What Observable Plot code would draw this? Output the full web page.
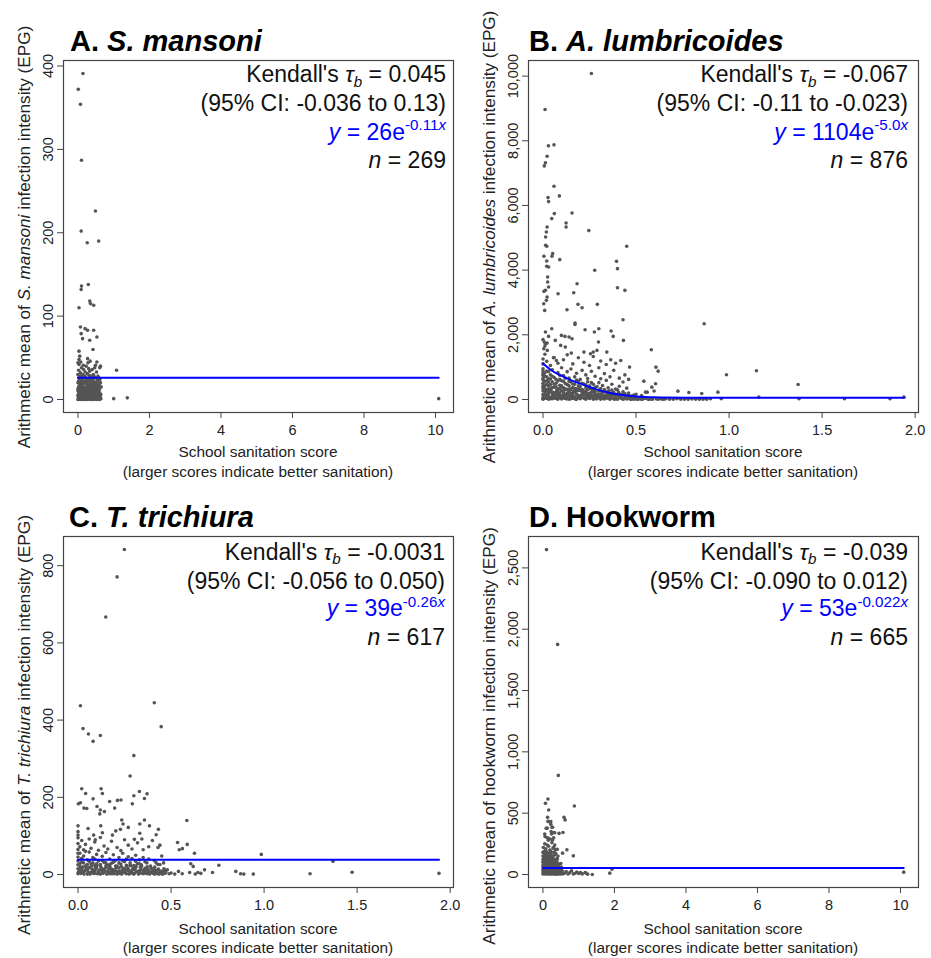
<!DOCTYPE html>
<html>
<head>
<meta charset="utf-8">
<script src="https://cdn.jsdelivr.net/npm/d3@7"></script>
<script src="https://cdn.jsdelivr.net/npm/@observablehq/plot@0.6"></script>
<style>
  body { margin: 0; background: white; }
  #root { position: relative; width: 931px; height: 958px; background: white; overflow: hidden;
          font-family: "Liberation Sans", Arial, Helvetica, sans-serif; color: #111; }
  #root svg { position: absolute; }
  #root svg text { font-size: 14.5px !important; font-family: "Liberation Sans", Arial, sans-serif !important; }
  .t { position: absolute; white-space: nowrap; line-height: 1; }
  .t sub, .t sup { font-size: 0.66em; vertical-align: baseline; position: relative; line-height: 0; }
  .t sub { top: 0.32em; }
  .t sup { top: -0.62em; }
  .ylab { position: absolute; white-space: nowrap; line-height: 1; font-size: 17px;
          transform: translate(-50%, -50%) rotate(-90deg); color: #222; }
</style>
</head>
<body>
<div id="root"></div>
<script>
// ---------------- DATA ----------------
// Panel A: S. mansoni  [sanitation score, EPG]
const pointsA = [
  [0.14,391],[0.01,372],[0.07,354],[0.10,287],[0.49,226],[0.09,202],[0.26,188],[0.58,190],
  [0.10,136],[0.09,132],[0.29,138],[0.03,110],[0.33,118],[0.35,115],[0.44,113],[0.07,87],
  [0.20,85],[0.27,83],[0.44,83],[0.09,79],[0.13,73],[0.53,75],[0.33,71],[0.42,60],[0.03,58],
  [0.05,52],[0.27,49],[0.03,48],[0.53,45],[0.49,41],[0.63,40],[1.08,35],[1.00,1],[1.38,2],[10.09,1],
  [0.02,2],[0.05,5],[0.08,1],[0.1,8],[0.12,3],[0.15,12],[0.18,6],[0.2,2],[0.22,15],[0.25,4],[0.28,9],
  [0.3,1],[0.32,18],[0.35,7],[0.38,3],[0.4,11],[0.42,5],[0.45,2],[0.48,14],[0.5,6],[0.52,1],[0.55,9],
  [0.58,3],[0.6,12],[0.62,4],[0.64,1],[0.01,10],[0.03,16],[0.06,20],[0.09,13],[0.11,24],[0.14,18],
  [0.17,22],[0.19,10],[0.21,27],[0.24,19],[0.27,13],[0.29,23],[0.31,29],[0.34,16],[0.37,21],[0.39,8],
  [0.41,19],[0.44,25],[0.46,10],[0.49,20],[0.51,16],[0.54,22],[0.57,18],[0.59,7],[0.63,20],[0.65,15],
  [0.0,30],[0.02,35],[0.04,25],[0.07,32],[0.1,38],[0.13,30],[0.16,36],[0.18,28],[0.2,33],[0.23,40],
  [0.26,31],[0.3,37],[0.33,34],[0.36,27],[0.4,36],[0.43,30],[0.47,38],[0.52,33],[0.56,28],[0.61,38],
  [0.0,0],[0.03,1],[0.06,0],[0.09,3],[0.13,0],[0.16,2],[0.19,0],[0.23,1],[0.26,0],[0.3,3],[0.33,0],
  [0.36,1],[0.39,0],[0.43,2],[0.46,0],[0.5,1],[0.53,0],[0.57,2],[0.6,0],[0.63,1],[0.0,5],[0.01,14],
  [0.02,22],[0.04,8],[0.05,28],[0.07,11],[0.08,17],[0.11,6],[0.12,29],[0.14,4],[0.17,9],[0.21,7],
  [0.24,11],[0.27,5],[0.32,10],[0.35,14],[0.38,24],[0.41,2],[0.44,8],[0.47,5],[0.5,26],[0.53,11],
  [0.56,4],[0.59,16],[0.62,25],[0.0,44],[0.03,42],[0.15,41],[0.28,44],[0.34,46],[0.08,45],
  [0.0,12],[0.0,20],[0.01,3],[0.02,8],[0.03,26],[0.04,14],[0.05,19],[0.06,6],[0.07,24],[0.08,10],
  [0.09,21],[0.1,16],[0.11,1],[0.12,19],[0.13,9],[0.14,26],[0.15,3],[0.16,15],[0.17,28],[0.18,12],
  [0.19,4],[0.2,20],[0.21,13],[0.22,6],[0.23,24],[0.24,2],[0.25,15],[0.26,22],[0.27,9],[0.28,17],
  [0.29,3],[0.3,25],[0.31,12],[0.32,4],[0.33,21],[0.34,8],[0.35,28],[0.36,11],[0.37,5],[0.38,17],
  [0.39,26],[0.4,4],[0.41,13],[0.42,22],[0.43,9],[0.44,16],[0.45,28],[0.46,4],[0.47,19],[0.48,7],
  [0.49,11],[0.5,21],[0.51,3],[0.52,17],[0.53,6],[0.54,14],[0.55,25],[0.56,10],[0.57,2],[0.58,13],
  [0.6,22],[0.61,8],[0.62,16],[0.64,6]
];
const fitA = [[0,26],[10.09,26]];

// Panel B: A. lumbricoides
const pointsB = [
  [0.26,10083],[0.011,8968],[0.029,7843],[0.059,7874],[0.022,7523],[0.013,7317],[0.007,7224],
  [0.059,6594],[0.088,6295],[0.027,6243],[0.03,6120],[0.061,5748],[0.156,5769],[0.047,5593],
  [0.124,5459],[0.124,5335],[0.246,5222],[0.022,5335],[0.018,5181],[0.014,5026],[0.014,4768],
  [0.02,4737],[0.052,4510],[0.048,4427],[0.005,4427],[0.02,4283],[0.02,4118],[0.03,4097],[0.09,4324],
  [0.45,4737],[0.395,4272],[0.40,4046],[0.278,3994],[0.025,3787],[0.025,3633],[0.03,3478],[0.013,3375],
  [0.005,3344],[0.40,3457],[0.44,3375],[0.081,3271],[0.183,3581],[0.165,3302],[0.022,3168],[0.018,3065],
  [0.004,2962],[0.292,2941],[0.188,2941],[0.21,2838],[0.129,2776],[0.009,2755],[0.172,2363],[0.172,2322],
  [0.43,2466],[0.866,2343],[0.047,2188],[0.013,2085],[0.226,2157],[0.30,2188],[0.276,2085],[0.366,2116],
  [0.377,1950],[0.099,1981],[0.118,1950],[0.14,1930],[0.066,1827],[0.156,1878],[0.432,1827],[0.007,1775],
  [0.013,1723],[0.022,1744],[0.298,1775],[0.095,1672],[0.12,1620],[0.004,1569],[0.582,1538],[0.023,1517],
  [0.22,1465],[0.255,1414],[0.27,1465],[0.29,1517],[0.343,1465],[0.152,1434],[0.056,1290],[0.072,1207],
  [0.364,1228],[0.418,1207],[0.607,1000],[0.619,876],[0.465,1001],[0.986,765],[1.147,888],[1.371,464],
  [0.542,567],[0.605,486],[0.585,381],[0.597,260],[0.551,226],[0.56,226],[0.725,257],[0.784,217],
  [0.853,186],[0.94,226],[1.16,72],[1.376,20],[1.62,20],[1.865,20],[1.94,72],[0.958,20],
  [0.00,10],[0.01,40],[0.02,80],[0.03,5],[0.04,60],[0.05,20],[0.06,90],[0.07,30],[0.08,5],[0.09,70],
  [0.10,15],[0.11,50],[0.12,95],[0.13,25],[0.14,5],[0.15,65],[0.16,35],[0.17,85],[0.18,10],[0.19,55],
  [0.20,20],[0.21,75],[0.22,40],[0.23,5],[0.24,60],[0.25,30],[0.26,90],[0.27,10],[0.28,50],[0.29,25],
  [0.30,70],[0.31,5],[0.32,45],[0.33,15],[0.34,80],[0.35,30],[0.36,5],[0.37,60],[0.38,20],[0.39,40],
  [0.40,10],[0.41,75],[0.42,30],[0.43,5],[0.44,55],[0.45,15],[0.46,35],[0.47,5],[0.48,25],[0.49,10],
  [0.50,45],[0.51,5],[0.52,20],[0.53,10],[0.55,30],[0.57,5],[0.59,15],[0.62,5],[0.64,10],[0.66,20],
  [0.7,5],[0.74,10],[0.76,5],[0.8,15],[0.82,5],[0.86,10],[0.88,5],[0.9,20],
  [0.00,150],[0.01,250],[0.02,120],[0.03,200],[0.04,290],[0.05,170],[0.06,110],[0.07,240],[0.08,180],
  [0.09,130],[0.10,270],[0.11,210],[0.12,150],[0.13,110],[0.14,260],[0.15,190],[0.16,130],[0.17,230],
  [0.18,170],[0.19,280],[0.20,120],[0.21,210],[0.22,160],[0.23,250],[0.24,110],[0.25,190],[0.26,140],
  [0.27,230],[0.28,170],[0.29,120],[0.30,260],[0.31,150],[0.32,200],[0.33,110],[0.34,240],[0.35,140],
  [0.36,180],[0.37,120],[0.38,220],[0.40,150],[0.42,110],[0.44,180],[0.46,130],[0.48,110],[0.50,160],
  [0.53,120],[0.02,170],[0.05,230],[0.09,200],[0.15,110],
  [0.00,350],[0.00,500],[0.01,420],[0.02,580],[0.03,330],[0.04,460],[0.05,550],[0.06,380],[0.07,500],
  [0.08,320],[0.09,440],[0.10,580],[0.11,360],[0.12,490],[0.13,310],[0.14,420],[0.15,540],[0.16,370],
  [0.17,470],[0.18,330],[0.19,560],[0.20,400],[0.21,310],[0.22,480],[0.23,360],[0.24,550],[0.25,420],
  [0.26,320],[0.27,470],[0.28,380],[0.30,520],[0.31,340],[0.32,430],[0.34,590],[0.35,360],[0.37,470],
  [0.39,320],[0.41,410],[0.43,540],[0.45,350],
  [0.00,650],[0.00,800],[0.00,950],[0.01,720],[0.02,880],[0.03,640],[0.04,760],[0.05,920],[0.06,680],
  [0.08,830],[0.09,620],[0.10,980],[0.11,740],[0.13,860],[0.14,660],[0.15,940],[0.17,700],[0.18,810],
  [0.20,620],[0.21,900],[0.23,760],[0.24,650],[0.26,870],[0.28,720],[0.30,980],[0.31,640],[0.33,800],
  [0.36,700],[0.38,900],[0.41,660],[0.44,760],[0.46,620],
  [0.00,1100],[0.00,1250],[0.01,1400],[0.02,1180],[0.04,1050],[0.06,1300],[0.08,1120],[0.11,1230],
  [0.13,1380],[0.16,1100],[0.19,1290],[0.22,1150],[0.25,1050],[0.27,1330],[0.31,1190],[0.34,1080],
  [0.39,1120],[0.00,1850],[0.01,1650],[0.03,1950],
  [0.005,30],[0.015,120],[0.025,260],[0.035,60],[0.045,340],[0.055,150],[0.065,40],[0.075,300],
  [0.085,90],[0.095,380],[0.105,60],[0.115,290],[0.125,20],[0.135,190],[0.145,330],[0.155,80],
  [0.165,260],[0.175,10],[0.185,140],[0.195,350],[0.205,70],[0.215,280],[0.225,30],[0.235,180],
  [0.245,330],[0.255,60],[0.265,240],[0.275,110],[0.285,20],[0.295,170],[0.305,310],[0.315,90],
  [0.325,230],[0.335,40],[0.345,160],[0.355,270],[0.365,70],[0.375,190],[0.385,10],[0.395,120],
  [0.405,230],[0.415,60],[0.425,150],[0.435,20],[0.445,100],[0.455,40],[0.465,80],[0.475,10],
  [0.485,60],[0.495,30],[0.505,10],[0.515,50],[0.525,20],[0.535,5],[0.545,40],[0.565,10],[0.575,25],
  [0.585,5],[0.61,15],[0.63,30],[0.65,5],[0.68,10],[0.72,20],[0.78,5],[0.84,10],
  [0.0,60],[0.0,260],[0.0,420],[0.0,600],[0.0,740],[0.0,880],[0.01,160],[0.01,330],[0.01,560],
  [0.01,820],[0.02,40],[0.02,300],[0.02,470],[0.02,700],[0.03,110],[0.03,420],[0.03,540],[0.03,860],
  [0.04,20],[0.04,240],[0.04,630],[0.05,90],[0.05,370],[0.05,720],[0.06,200],[0.06,470],[0.07,130],
  [0.07,390],[0.07,620],[0.08,50],[0.08,260],[0.08,570],[0.09,330],[0.09,750],[0.10,110],[0.10,420],
  [0.11,140],[0.11,560],[0.12,30],[0.12,330],[0.12,660],[0.13,200],[0.13,460],[0.14,110],[0.14,560],
  [0.15,20],[0.15,300],[0.16,200],[0.16,480],[0.17,60],[0.17,340],[0.18,260],[0.18,600],[0.19,100],
  [0.19,420],[0.20,280],[0.21,130],[0.21,500],[0.22,230],[0.23,90],[0.23,450],[0.24,300],[0.25,140],
  [0.26,220],[0.26,520],[0.27,60],[0.27,320],[0.28,250],[0.29,60],[0.29,400],[0.30,140],[0.31,260],
  [0.32,100],[0.33,310],[0.34,140],[0.35,230],[0.36,80],[0.37,290],[0.38,140],[0.39,60],[0.40,300],
  [0.41,180],[0.42,50],[0.43,240],[0.44,120],[0.46,200],[0.47,100],[0.49,140]
];
const fitB = [[0,1110],[0.05,880],[0.1,730],[0.15,600],[0.2,490],[0.25,385],[0.3,290],[0.35,215],
  [0.4,160],[0.45,120],[0.5,95],[0.6,70],[0.8,55],[1.0,50],[1.5,50],[1.94,50]];

// Panel C: T. trichiura
const pointsC = [
  [0.249,842],[0.21,771],[0.149,667],[0.013,437],[0.41,445],[0.447,383],[0.027,378],[0.056,364],
  [0.081,345],[0.12,360],[0.30,308],[0.28,255],[0.02,222],[0.124,222],[0.131,210],[0.041,210],[0.33,215],
  [0.30,204],[0.371,209],[0.357,197],[0.081,196],[0.002,183],[0.013,186],[0.032,172],[0.047,171],
  [0.102,176],[0.12,167],[0.17,189],[0.212,192],[0.231,193],[0.197,172],[0.292,183],[0.142,163],
  [0.117,157],[0.0,126],[0.054,119],[0.084,102],[0.122,126],[0.235,141],[0.242,131],[0.228,117],
  [0.27,122],[0.357,141],[0.384,126],[0.332,131],[0.432,117],[0.585,140],[0.42,103],[0.332,107],
  [0.203,113],[0.185,102],[0.131,108],[0.093,90],[0.303,91],[0.343,92],[0.0,102],[0.0,111],[0.535,83],
  [0.587,78],[0.544,64],[0.561,67],[0.626,55],[0.985,52],[1.37,34],[0.757,24],[0.606,28],[0.619,21],
  [0.68,12],[0.723,5],[0.644,5],[0.848,8],[0.874,2],[0.891,1],[0.942,1],[1.247,2],[1.473,6],[1.94,3],
  [0.00,2],[0.01,8],[0.02,15],[0.03,4],[0.04,11],[0.05,1],[0.06,18],[0.07,6],[0.08,12],[0.09,3],
  [0.10,16],[0.11,7],[0.12,1],[0.13,13],[0.14,5],[0.15,19],[0.16,9],[0.17,2],[0.18,14],[0.19,6],
  [0.20,10],[0.21,1],[0.22,17],[0.23,4],[0.24,12],[0.25,8],[0.26,2],[0.27,15],[0.28,5],[0.29,11],
  [0.30,1],[0.31,18],[0.32,7],[0.33,3],[0.34,13],[0.35,6],[0.36,16],[0.37,2],[0.38,9],[0.39,4],
  [0.40,14],[0.41,1],[0.42,8],[0.43,12],[0.44,3],[0.45,6],[0.46,2],[0.47,10],
  [0.005,12],[0.015,3],[0.025,19],[0.035,9],[0.045,16],[0.055,6],[0.065,1],[0.075,14],[0.085,8],
  [0.095,19],[0.105,2],[0.115,11],[0.125,17],[0.135,3],[0.145,9],[0.155,1],[0.165,15],[0.175,7],
  [0.185,11],[0.195,2],[0.205,18],[0.215,5],[0.225,9],[0.235,1],[0.245,16],[0.255,4],[0.265,11],
  [0.275,1],[0.285,8],[0.295,17],[0.305,4],[0.315,9],[0.325,1],[0.335,19],[0.345,3],[0.355,10],
  [0.365,6],[0.375,13],[0.385,1],[0.395,7],[0.405,3],[0.415,11],[0.425,5],[0.435,1],[0.455,9],
  [0.5,4],[0.52,1],[0.54,8],[0.56,2],[0.6,5],[0.63,1],[0.66,3],
  [0.00,25],[0.00,45],[0.01,55],[0.02,32],[0.03,48],[0.04,22],[0.05,38],[0.06,58],[0.07,28],[0.08,44],
  [0.09,23],[0.10,52],[0.11,35],[0.12,26],[0.13,47],[0.14,31],[0.15,57],[0.16,24],[0.17,40],[0.18,29],
  [0.19,51],[0.20,36],[0.21,22],[0.22,44],[0.23,27],[0.24,55],[0.25,33],[0.26,24],[0.27,46],[0.28,30],
  [0.29,41],[0.30,23],[0.31,50],[0.32,28],[0.33,38],[0.34,25],[0.35,44],[0.37,30],[0.39,22],[0.41,36],
  [0.43,26],[0.45,48],[0.46,30],
  [0.00,65],[0.00,80],[0.00,95],[0.01,72],[0.02,88],[0.03,64],[0.04,78],[0.06,92],[0.07,68],[0.09,84],
  [0.11,63],[0.12,96],[0.14,74],[0.16,66],[0.18,86],[0.21,70],[0.23,62],[0.25,90],[0.27,76],[0.29,66],
  [0.32,82],[0.35,64],[0.38,72],[0.40,88],[0.43,70],[0.44,76],
  [0.002,6],[0.012,20],[0.022,9],[0.032,1],[0.042,21],[0.052,13],[0.062,4],[0.072,22],[0.082,3],
  [0.092,10],[0.102,23],[0.112,4],[0.122,20],[0.132,8],[0.142,14],[0.152,24],[0.162,4],[0.172,20],
  [0.182,2],[0.192,12],[0.202,22],[0.212,8],[0.222,3],[0.232,21],[0.242,6],[0.252,14],[0.262,21],
  [0.272,9],[0.282,23],[0.292,3],[0.302,13],[0.312,22],[0.322,6],[0.332,10],[0.342,22],[0.352,2],
  [0.362,12],[0.372,20],[0.382,5],[0.392,16],[0.402,8],[0.412,19],[0.422,2],[0.432,14],[0.442,9],
  [0.452,1],[0.462,15],[0.472,4],[0.48,12],[0.49,2],
  [0.0,15],[0.0,35],[0.0,55],[0.01,28],[0.02,42],[0.03,30],[0.04,60],[0.05,26],[0.06,34],[0.08,30],
  [0.09,40],[0.1,28],[0.13,36],[0.15,30],[0.17,26],[0.19,32],[0.22,30],[0.24,36],[0.26,40],[0.28,24],
  [0.31,34],[0.33,28],[0.36,33],[0.38,40],[0.42,30],[0.44,26]
];
const fitC = [[0,38],[1.94,38]];

// Panel D: Hookworm
const pointsD = [
  [0.10,2649],[0.41,1876],[0.43,808],[0.14,616],[0.07,580],[0.88,559],[0.16,526],[0.13,466],[0.59,466],
  [0.62,445],[0.18,431],[0.22,431],[0.09,377],[0.27,385],[0.23,350],[0.31,342],[0.56,342],[0.06,309],
  [0.15,296],[0.27,282],[0.67,201],[0.85,152],[0.39,119],[0.3,222],[0.35,201],[0.23,179],[1.93,43],
  [1.87,11],[1.38,0],[1.18,16],[10.09,19],[0.14,433],[0.22,410],[0.12,378],[0.25,385],[0.33,340],
  [0.45,335],[0.55,174],
  [0.00,5],[0.02,30],[0.04,70],[0.05,10],[0.07,50],[0.08,110],[0.1,20],[0.11,85],[0.13,140],[0.14,40],
  [0.16,5],[0.17,95],[0.19,60],[0.2,15],[0.22,120],[0.23,35],[0.25,75],[0.26,10],[0.28,55],[0.3,100],
  [0.31,25],[0.33,5],[0.35,65],[0.36,40],[0.38,15],[0.4,80],[0.42,30],[0.44,5],[0.46,50],[0.48,20],
  [0.5,10],[0.52,35],[0.55,5],
  [0.01,60],[0.03,95],[0.03,150],[0.06,130],[0.09,160],[0.12,60],[0.15,115],[0.18,25],[0.21,45],
  [0.24,150],[0.27,90],[0.29,30],[0.32,120],[0.34,10],[0.37,45],[0.39,100],[0.41,60],[0.43,20],
  [0.45,85],[0.47,40],[0.49,5],[0.51,60],
  [0.0,120],[0.0,180],[0.01,220],[0.02,100],[0.04,190],[0.05,250],[0.06,170],[0.08,210],[0.1,185],
  [0.12,240],[0.14,175],[0.16,230],[0.19,200],[0.2,290],[0.22,190],[0.25,260],[0.28,215],[0.31,180],
  [0.33,240],[0.36,170],[0.4,205],[0.05,330],[0.12,300],[0.15,280],[0.24,330],[0.3,300],
  [0.0,40],[0.02,15],[0.06,85],[0.09,45],[0.11,5],[0.13,70],[0.16,50],[0.18,135],[0.2,80],[0.23,5],
  [0.26,45],[0.28,130],[0.31,70],[0.34,95],[0.37,5],[0.4,130],[0.43,55],[0.46,15],[0.5,90],[0.53,20],
  [0.6,10],[0.65,25],[0.7,5],[0.75,15],[0.8,30],[0.85,5],[0.9,10],[0.95,20],[1.0,8],[1.05,15],
  [1.1,5],[1.2,12],[1.25,3],
  [0.005,20],[0.015,80],[0.025,140],[0.035,45],[0.045,105],[0.055,5],[0.065,60],[0.075,125],
  [0.085,30],[0.095,90],[0.105,150],[0.115,50],[0.125,110],[0.135,15],[0.145,75],[0.155,135],
  [0.165,35],[0.175,100],[0.185,60],[0.195,5],[0.205,120],[0.215,25],[0.225,85],[0.235,145],
  [0.245,50],[0.255,110],[0.265,20],[0.275,70],[0.285,5],[0.295,60],[0.305,125],[0.315,40],
  [0.325,80],[0.335,20],[0.345,110],[0.355,5],[0.365,70],[0.375,35],[0.385,90],[0.395,15],
  [0.405,50],[0.415,5],[0.425,75],[0.435,40],[0.445,10],[0.455,60],[0.47,25],[0.49,45],[0.51,10],
  [0.54,30],[0.0,70],[0.0,100],[0.0,150],[0.01,30],[0.02,130],[0.04,110],[0.07,160],[0.08,75],
  [0.1,120],[0.12,170],[0.14,100],[0.17,155],[0.19,130],[0.21,170],[0.24,100],[0.27,150],[0.3,55],
  [0.33,160],[0.36,120],[0.42,150]
];
const fitD = [[0,54],[10.09,54]];

// Tick values
const xTicksWide = [0, 2, 4, 6, 8, 10];
const xTicksNarrow = [0, 0.5, 1, 1.5, 2];
const yTicksA = [0, 100, 200, 300, 400];
const yTicksB = [0, 2000, 4000, 6000, 8000, 10000];
const yTicksC = [0, 200, 400, 600, 800];
const yTicksD = [0, 500, 1000, 1500, 2000, 2500];

// Titles and annotation texts
const titles = ["A. <i>S. mansoni</i>", "B. <i>A. lumbricoides</i>", "C. <i>T. trichiura</i>", "D. Hookworm"];
const taus = ["0.045", "-0.067", "-0.0031", "-0.039"];
const cis = ["(95% CI: -0.036 to 0.13)", "(95% CI: -0.11 to -0.023)", "(95% CI: -0.056 to 0.050)", "(95% CI: -0.090 to 0.012)"];
const eqA = ["26", "-0.11"], eqB = ["1104", "-5.0"], eqC = ["39", "-0.26"], eqD = ["53", "-0.022"];
const ns = ["269", "876", "617", "665"];
const ylabs = [
  "Arithmetic mean of <i>S. mansoni</i> infection intensity (EPG)",
  "Arithmetic mean of <i>A. lumbricoides</i> infection intensity (EPG)",
  "Arithmetic mean of <i>T. trichiura</i> infection intensity (EPG)",
  "Arithmetic mean of hookworm infection intensity (EPG)"
];

// ---------------- DRAWING ----------------
const root = document.getElementById("root");
const toObj = (arr) => arr.map(([x, y]) => ({x, y}));
const fmt1 = d3.format(".1f");
const fmtC = d3.format(",");

function panel(o) {
  const svg = Plot.plot({
    width: 465, height: 479,
    marginLeft: 63, marginRight: 12, marginTop: o.mt, marginBottom: o.mb,
    style: {fontFamily: '"Liberation Sans", Arial, sans-serif', fontSize: "14.5px", color: "#222", background: "transparent"},
    x: {domain: o.xd},
    y: {domain: o.yd},
    marks: [
      Plot.axisX({ticks: o.xt, tickFormat: o.xf, tickSize: 6, tickPadding: 6, label: null, stroke: "#444", fontSize: 14.5, fill: "#222"}),
      Plot.axisY({ticks: o.yt, tickFormat: o.yf, tickSize: 6, tickPadding: 5, tickRotate: -90, label: null, stroke: "#444", fontSize: 14.5, fill: "#222"}),
      Plot.dot(toObj(o.pts), {x: "x", y: "y", r: 1.8, fill: "#555", stroke: null}),
      Plot.line(toObj(o.fit), {x: "x", y: "y", stroke: "#0000ff", strokeWidth: 2, curve: "monotone-x"}),
      Plot.frame({stroke: "#444", strokeWidth: 1.2})
    ]
  });
  svg.style.left = o.left + "px";
  svg.style.top = o.top + "px";
  svg.style.fontSize = "14.5px";
  svg.setAttribute("font-size", "14.5");
  svg.querySelectorAll("g, text").forEach((el) => {
    if (el.hasAttribute("font-size")) el.setAttribute("font-size", "14.5");
    if (el.tagName.toLowerCase() === "text") el.style.fontSize = "14.5px";
  });
  root.appendChild(svg);
}

panel({left: 0, top: 0, mt: 60, mb: 67, xd: [-0.404, 10.504], yd: [-15.6, 406.6], xt: xTicksWide, yt: yTicksA, xf: d3.format("d"), yf: d3.format("d"), pts: pointsA, fit: fitA});
panel({left: 465, top: 0, mt: 60, mb: 67, xd: [-0.078, 2.018], yd: [-403, 10483], xt: xTicksNarrow, yt: yTicksB, xf: fmt1, yf: fmtC, pts: pointsB, fit: fitB});
panel({left: 0, top: 479, mt: 57, mb: 71, xd: [-0.078, 2.018], yd: [-33.7, 875.7], xt: xTicksNarrow, yt: yTicksC, xf: fmt1, yf: d3.format("d"), pts: pointsC, fit: fitC});
panel({left: 465, top: 479, mt: 57, mb: 71, xd: [-0.404, 10.504], yd: [-106, 2756], xt: xTicksWide, yt: yTicksD, xf: d3.format("d"), yf: fmtC, pts: pointsD, fit: fitD});

// text helpers: place by baseline
function textAt(html, {left, right, baseline, size, weight = "normal", color = "#111", align = "left"}) {
  const d = document.createElement("div");
  d.className = "t";
  d.innerHTML = html;
  d.style.fontSize = size + "px";
  d.style.fontWeight = weight;
  d.style.color = color;
  d.style.top = (baseline - 0.8465 * size) + "px";
  if (right != null) { d.style.right = right + "px"; d.style.textAlign = "right"; }
  else if (align === "center") { d.style.left = left + "px"; d.style.transform = "translateX(-50%)"; }
  else d.style.left = left + "px";
  root.appendChild(d);
}
function ylab(html, cx, cy, target) {
  const d = document.createElement("div");
  d.className = "ylab";
  d.innerHTML = html;
  d.style.left = cx + "px";
  d.style.top = cy + "px";
  root.appendChild(d);
  // fit the label length to the length seen in the reference
  const w = d.offsetWidth;
  if (w > 0) d.style.fontSize = Math.max(15, Math.min(18, 17 * target / w)) + "px";
}

const eqs = [eqA, eqB, eqC, eqD];
const layout = [
  {titleX: 70, titleB: 51.7, rightEdge: 446, base: [82.7, 111.7, 140, 168.3], xc: 258, xl: [457.3, 476.6], yc: [25, 236.5], len: 423},
  {titleX: 529, titleB: 51.7, rightEdge: 908, base: [82.7, 111.7, 140, 168.3], xc: 723, xl: [457.3, 476.6], yc: [490, 236.5], len: 453},
  {titleX: 69, titleB: 527.7, rightEdge: 445, base: [560, 589, 616.7, 645.7], xc: 258, xl: [934, 953.3], yc: [25, 725], len: 420},
  {titleX: 529, titleB: 527.7, rightEdge: 908, base: [560, 589, 616.7, 645.7], xc: 723, xl: [934, 953.3], yc: [490, 736], len: 418}
];
layout.forEach((L, i) => {
  textAt(titles[i], {left: L.titleX, baseline: L.titleB, size: 29, weight: "bold", color: "#000"});
  const right = 931 - L.rightEdge;
  textAt(`Kendall's <i>τ</i><sub><i>b</i></sub> = ${taus[i]}`, {right, baseline: L.base[0], size: 23});
  textAt(cis[i], {right, baseline: L.base[1], size: 23});
  textAt(`<i>y</i> = ${eqs[i][0]}e<sup>${eqs[i][1]}<i>x</i></sup>`, {right, baseline: L.base[2], size: 23, color: "#0000ff"});
  textAt(`<i>n</i> = ${ns[i]}`, {right, baseline: L.base[3], size: 23});
  textAt("School sanitation score", {left: L.xc, baseline: L.xl[0], size: 15.4, align: "center", color: "#222"});
  textAt("(larger scores indicate better sanitation)", {left: L.xc, baseline: L.xl[1], size: 15.4, align: "center", color: "#222"});
  ylab(ylabs[i], L.yc[0], L.yc[1], L.len);
});
</script>
</body>
</html>
